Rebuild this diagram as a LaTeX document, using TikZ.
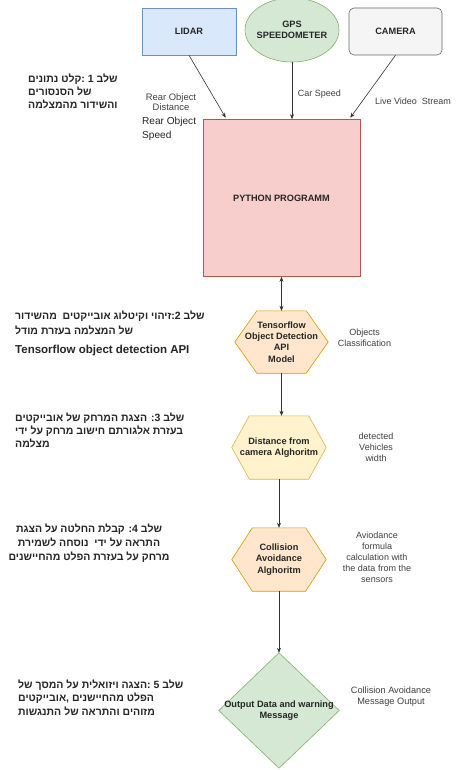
\documentclass[tikz,border=0pt]{standalone}
\usepackage{fontspec}
\setmainfont{Liberation Sans}
\newfontfamily\hebfont[Script=Hebrew]{Liberation Sans}
\TeXXeTstate=1
\usetikzlibrary{arrows.meta,calc,shapes.geometric}
\pgfdeclarelayer{bg}
\pgfsetlayers{bg,main}
\definecolor{blueF}{HTML}{DAE8FC}\definecolor{blueD}{HTML}{6C8EBF}
\definecolor{greenF}{HTML}{D5E8D4}\definecolor{greenD}{HTML}{82B366}
\definecolor{grayF}{HTML}{F5F5F5}\definecolor{grayD}{HTML}{666666}
\definecolor{redF}{HTML}{F8CECC}\definecolor{redD}{HTML}{B85450}
\definecolor{orangeF}{HTML}{FFE6CC}\definecolor{orangeD}{HTML}{D79B00}
\definecolor{yellowF}{HTML}{FFF2CC}\definecolor{yellowD}{HTML}{D6B656}
\definecolor{lblC}{HTML}{404040}
\newcommand\hexfill[4]{%
\begin{pgfonlayer}{bg}
\filldraw[fill=#3,draw=#4,line width=0.6pt] (#1.west) -- ($(#1.north west)+(#2,0)$) -- ($(#1.north east)+(-#2,0)$) -- (#1.east) -- ($(#1.south east)+(-#2,0)$) -- ($(#1.south west)+(#2,0)$) -- cycle;
\end{pgfonlayer}}
\begin{document}
\begin{tikzpicture}[x=1pt,y=-1pt,
  box/.style={draw, line width=0.6pt, font=\fontsize{9.2}{11}\selectfont\bfseries, text=black!85, inner sep=0pt, align=center},
  shapebox/.style={inner sep=0pt, font=\fontsize{9.2}{11.3}\selectfont\bfseries, text=black!85, align=center},
  lbl/.style={font=\fontsize{9}{11}\selectfont, text=lblC, align=center, inner sep=0pt},
  heb/.style={font=\hebfont\bfseries\fontsize{10.5}{13.5}\selectfont, text=black!85, align=left, inner sep=0pt, anchor=west},
  arr/.style={-{Stealth[length=5pt,width=4pt]}, line width=0.6pt, draw=black!80}]
\useasboundingbox (0,0) rectangle (466,770);
\begin{pgfonlayer}{bg}
\fill[white] (0,0) rectangle (466,770);
\end{pgfonlayer}

% sensors
\node[box, fill=blueF, draw=blueD, minimum width=94, minimum height=47] (lidar) at (189,31.5) {LIDAR};
\node[box, ellipse, fill=greenF, draw=greenD, minimum width=94, minimum height=64, inner xsep=-3pt] (gps) at (292,30) {GPS\\SPEEDOMETER};
\node[box, rounded corners=5pt, fill=grayF, draw=grayD, minimum width=93, minimum height=47] (cam) at (395.5,31.5) {CAMERA};
\node[box, fill=redF, draw=redD, minimum width=157, minimum height=157] (py) at (281.5,198) {PYTHON PROGRAMM};

\draw[arr] (lidar.south) -- ($(py.north west)+(23,-1.5)$);
\draw[arr] (gps.south) -- (gps.south |- py.north);
\draw[arr] (cam.south) -- ($(py.north east)+(-10,-1.5)$);

\node[lbl, font=\fontsize{9.4}{10.5}\selectfont] (l1) at (171,102) {Rear Object\\Distance};
\node[lbl, text=black!85, align=left, anchor=west, font=\fontsize{10.1}{14}\selectfont] (l2) at (142,129) {Rear Object\\Speed};
\node[lbl] (l3) at (319.5,94.5) {Car Speed};
\node[lbl] (l4) at (413,101) {Live Video\ \ Stream};

% processing chain
\node[shapebox, minimum width=93, minimum height=62] (tf) at (281.5,342) {Tensorflow\\Object Detection\\API\\Model};
\hexfill{tf}{22}{orangeF}{orangeD}
\node[shapebox, minimum width=94, minimum height=63] (dist) at (279,447.5) {Distance from\\camera Alghoritm};
\hexfill{dist}{17.5}{yellowF}{yellowD}
\node[shapebox, minimum width=94, minimum height=63] (coll) at (279,559.5) {Collision\\Avoidance\\Alghoritm};
\hexfill{coll}{20.5}{orangeF}{orangeD}
\node[shapebox, minimum width=120, minimum height=115] (out) at (279,710.5) {Output Data and warning\\Message};
\begin{pgfonlayer}{bg}
\filldraw[fill=greenF, draw=greenD, line width=0.6pt] (out.west) -- (out.north) -- (out.east) -- (out.south) -- cycle;
\end{pgfonlayer}

\draw[arr, {Stealth[length=5pt,width=4pt]}-{Stealth[length=5pt,width=4pt]}] (py.south) -- (tf.north);
\draw[arr] (tf.south) -- (tf.south |- dist.north);
\draw[arr] (dist.south) -- (coll.north);
\draw[arr] (coll.south) -- (out.north);

\node[lbl] (d1) at (364.5,337.5) {Objects\\Classification};
\node[lbl] (d2) at (376,447.5) {detected\\Vehicles\\width};
\node[lbl] (d3) at (377,557) {Aviodance\\formula\\calculation with\\the data from the\\sensors};
\node[lbl, font=\fontsize{9.2}{11}\selectfont] (d4) at (391,696.5) {Collision Avoidance\\Message Output};

% Hebrew step descriptions
\node[heb, font=\hebfont\bfseries\fontsize{10.5}{13}\selectfont] (s1) at (28,91) {\beginR שלב 1 :קלט נתונים\endR\\\beginR של הסנסורים\endR\\\beginR והשידור מהמצלמה\endR};
\node[heb, font=\hebfont\bfseries\fontsize{10.5}{15}\selectfont] (s2) at (15,322.5) {\beginR שלב 2:זיהוי וקיטלוג אובייקטים\ \ מהשידור\endR\\\beginR של המצלמה בעזרת מודל\endR};
\node[heb, font=\bfseries\fontsize{11.5}{14}\selectfont] (s2b) at (15,351) {Tensorflow object detection API};
\node[heb, font=\hebfont\bfseries\fontsize{10.5}{13}\selectfont] (s3) at (15,430) {\beginR שלב 3: הצגת המרחק של אובייקטים\endR\\\beginR בעזרת אלגורתם חישוב מרחק על ידי\endR\\\beginR מצלמה\endR};
\node[heb, align=center, anchor=center, font=\hebfont\bfseries\fontsize{10.5}{14}\selectfont] (s4) at (89,543) {\beginR שלב 4: קבלת החלטה על הצגת\endR\\\beginR התראה על ידי\ \ נוסחה לשמירת\endR\\\beginR מרחק על בעזרת הפלט מהחיישנים\endR};
\node[heb, font=\hebfont\bfseries\fontsize{10.5}{13.5}\selectfont] (s5) at (18,697.5) {\beginR שלב 5 :הצגה ויזואלית על המסך של\endR\\\beginR הפלט מהחיישנים ,אובייקטים\endR\\\beginR מזוהים והתראה של התנגשות\endR};
\end{tikzpicture}
\end{document}
